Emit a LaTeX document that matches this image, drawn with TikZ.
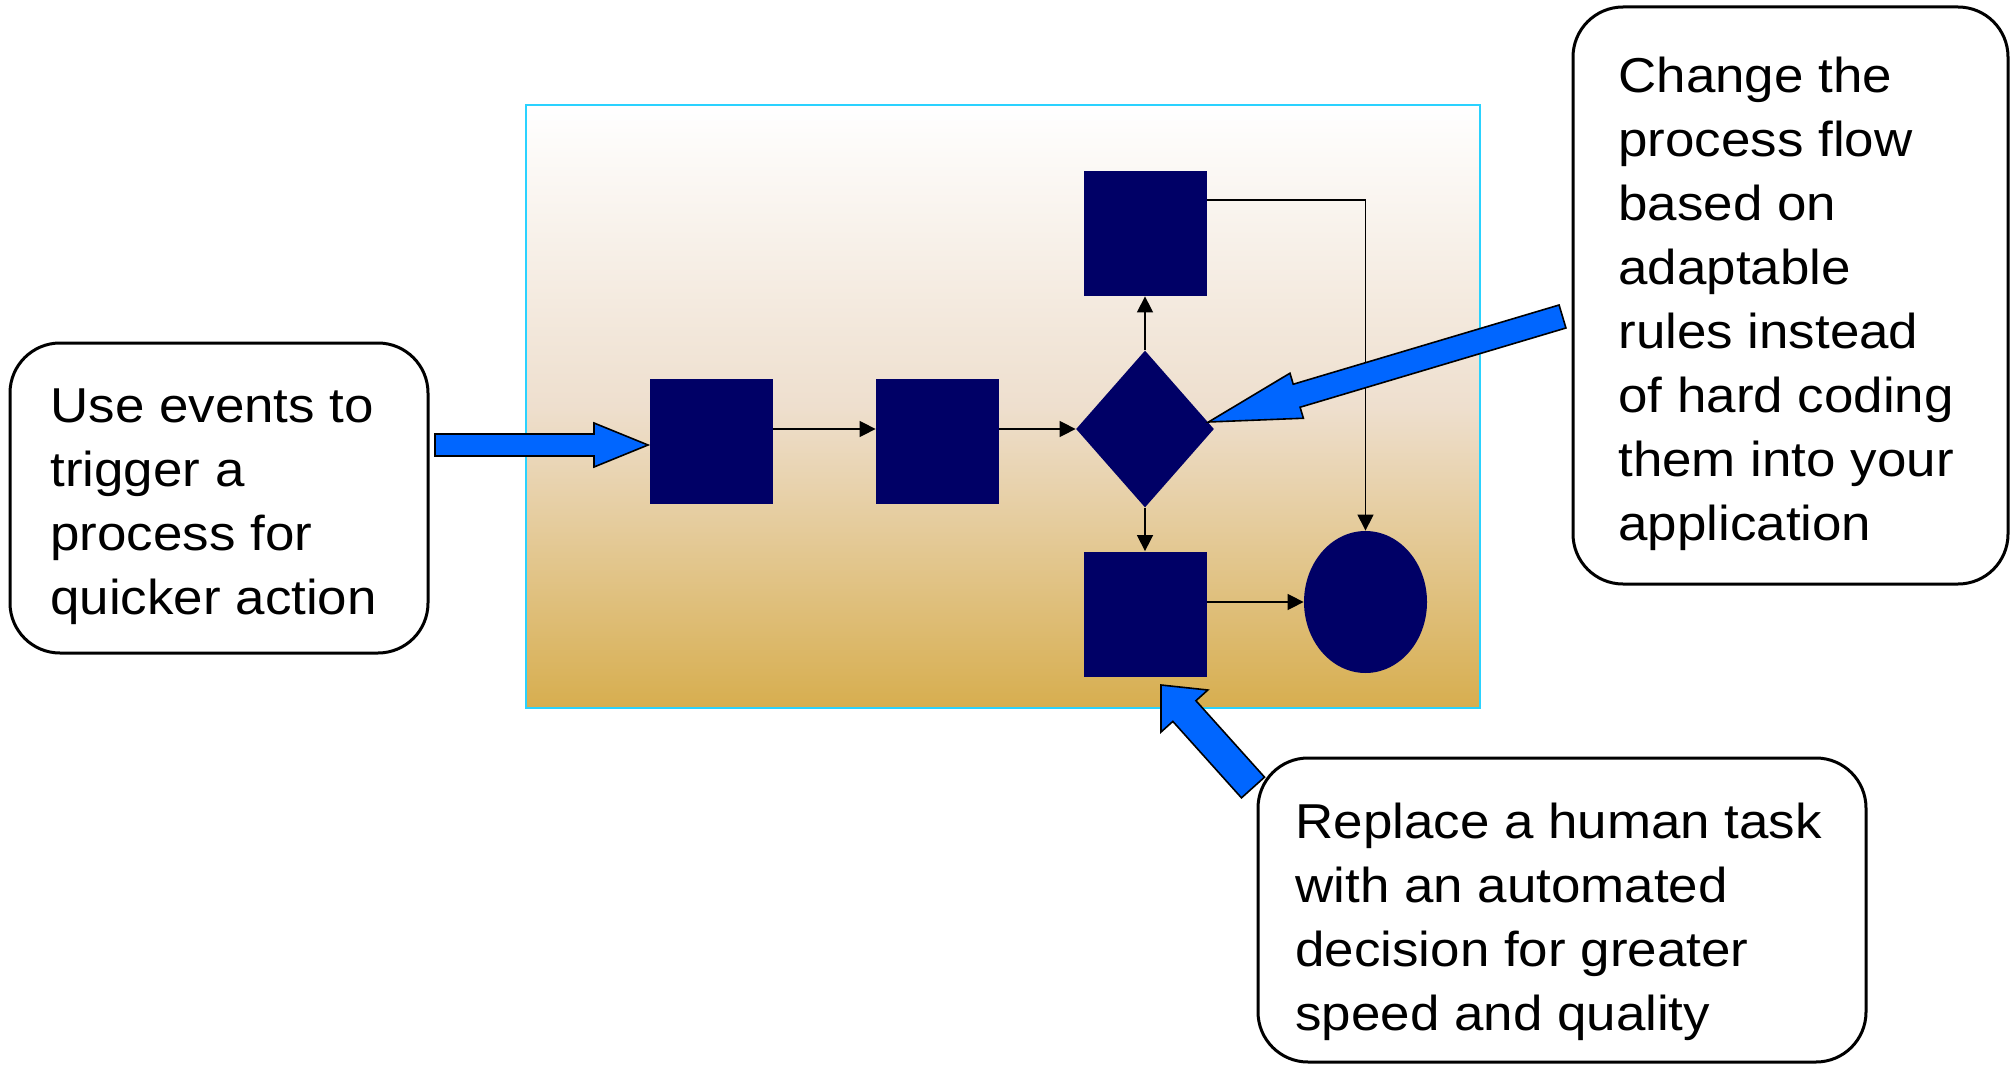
\documentclass[tikz,border=0pt]{standalone}
\usepackage{fontspec}
\setmainfont{Liberation Sans}[FakeStretch=1.08]
\usetikzlibrary{arrows.meta,calc,shapes.geometric}

\definecolor{boxnavy}{HTML}{000066}
\definecolor{callblue}{HTML}{0066FF}
\definecolor{panelcyan}{HTML}{2AD2FF}
\definecolor{panelbeige}{HTML}{EEDFCE}
\definecolor{panelgold}{HTML}{D7AE4F}

% block arrow: tail, tip, half shaft, half head, head length
\newcommand\blockarrow[5]{%
  \coordinate (bah) at ($(#2)!#5!(#1)$);
  \draw[callarrow] ($(#1)!#3!90:(#2)$) -- ($(bah)!#3!90:(#2)$) -- ($(bah)!#4!90:(#2)$) -- (#2)
    -- ($(bah)!#4!-90:(#2)$) -- ($(bah)!#3!-90:(#2)$) -- ($(#1)!#3!-90:(#2)$) -- cycle;
}

\begin{document}
\begin{tikzpicture}[x=0.5pt,y=-0.5pt,
	panel/.style={draw=panelcyan, line width=1pt, top color=white, bottom color=panelgold, middle color=panelbeige},
	procbox/.style={rectangle, fill=boxnavy, minimum width=61.5pt, minimum height=62.5pt, inner sep=0pt},
	choice/.style={diamond, fill=boxnavy, minimum width=69pt, minimum height=78.5pt, inner sep=0pt},
	endstate/.style={ellipse, fill=boxnavy, minimum width=61.5pt, minimum height=71pt, inner sep=0pt},
	conn/.style={draw=black, line width=0.75pt, -{Triangle[length=8pt,width=8pt]}},
	callarrow/.style={fill=callblue, draw=black, line width=0.8pt},
	note/.style={draw=black, line width=1.5pt, rounded corners=25pt, fill=white, inner sep=0pt},
	notetext/.style={anchor=north west, inner sep=0pt, align=left, font=\fontsize{24.5}{32}\selectfont, execute at begin node=\strut}]
\useasboundingbox (0,0) rectangle (2013,1065);

% process panel
\node [panel, minimum width=477pt, minimum height=301.5pt] (panel) at (1003,406.5) {};

\node [procbox] (sq1) at (711.5,441.5) {};
\node [procbox] (sq2) at (937.5,441.5) {};
\node [choice] (dia) at (1145,429) {};
\node [procbox] (sqT) at (1145,233.5) {};
\node [procbox] (sqB) at (1145,614) {};
\node [endstate] (ell) at (1365.5,602) {};

\draw [conn] (sq1.east |- dia.west) -- (sq2.west |- dia.west);
\draw [conn] (sq2.east |- dia.west) -- (dia.west);
\draw [conn] (dia.north) -- (sqT.south);
\draw [conn] (dia.south) -- (sqB.north);
\draw [conn] (sqB.east |- ell.west) -- (ell.west);
\draw [conn, line width=0.6pt] ([yshift=16.75pt]sqT.east) -| (ell.north);

% callout arrows
\coordinate (evtail) at (435,445);
\coordinate (evtip) at (648,445);
\coordinate (ruletail) at (1562.5,316.5);
\coordinate (ruletip) at (1208.5,422);
\coordinate (tasktail) at (1253,787.5);
\coordinate (tasktip) at (1161,685);
\blockarrow{evtail}{evtip}{5.5pt}{11pt}{27pt}
\blockarrow{ruletail}{ruletip}{6pt}{11.75pt}{46pt}
\blockarrow{tasktail}{tasktip}{7.75pt}{15.75pt}{17.5pt}

% notes
\node [note, minimum width=209pt, minimum height=155pt] (evbox) at (219,498) {};
\node [note, minimum width=217.5pt, minimum height=288.5pt] (rulebox) at (1790.5,295.5) {};
\node [note, minimum width=304pt, minimum height=152pt] (taskbox) at (1562,910) {};

\node [notetext] (evtext) at (50,388) {Use events to\\trigger a\\process for\\quicker action};
\node [notetext] (ruletext) at (1618,57) {Change the\\process flow\\based on\\adaptable\\rules instead\\of hard coding\\them into your\\application};
\node [notetext] (tasktext) at (1295,803) {Replace a human task\\with an automated\\decision for greater\\speed and quality};
\end{tikzpicture}
\end{document}
